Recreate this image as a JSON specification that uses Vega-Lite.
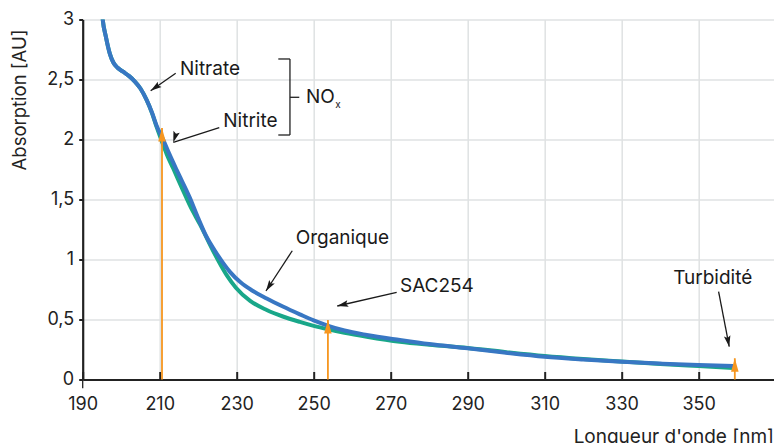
{
  "$schema": "https://vega.github.io/schema/vega-lite/v6.json",
  "width": 691,
  "height": 360,
  "autosize": {"type": "none"},
  "padding": {"left": 82.7, "top": 19.5, "right": 0, "bottom": 63.5},
  "background": "white",
  "config": {"view": {"stroke": null}, "font": "Inter"},
  "datasets": {
    "green": [
      {"nm": 194.6, "abs": 3.25}, {"nm": 195.2, "abs": 3.0}, {"nm": 196.0, "abs": 2.86}, {"nm": 197.1, "abs": 2.71},
      {"nm": 198.0, "abs": 2.64}, {"nm": 199.0, "abs": 2.6}, {"nm": 200.5, "abs": 2.565}, {"nm": 202.0, "abs": 2.53},
      {"nm": 203.5, "abs": 2.485}, {"nm": 205.0, "abs": 2.425}, {"nm": 206.6, "abs": 2.33}, {"nm": 208.0, "abs": 2.22},
      {"nm": 209.2, "abs": 2.105}, {"nm": 210.5, "abs": 1.99}, {"nm": 211.8, "abs": 1.88}, {"nm": 213.5, "abs": 1.76},
      {"nm": 216.0, "abs": 1.58}, {"nm": 218.0, "abs": 1.44}, {"nm": 220.5, "abs": 1.29}, {"nm": 223.9, "abs": 1.07},
      {"nm": 227.4, "abs": 0.87}, {"nm": 229.8, "abs": 0.765}, {"nm": 233.5, "abs": 0.655}, {"nm": 237.8, "abs": 0.579},
      {"nm": 242.0, "abs": 0.525}, {"nm": 246.4, "abs": 0.48}, {"nm": 250.0, "abs": 0.447}, {"nm": 253.8, "abs": 0.418},
      {"nm": 258.0, "abs": 0.39}, {"nm": 263.8, "abs": 0.357}, {"nm": 272.4, "abs": 0.315}, {"nm": 280.0, "abs": 0.29},
      {"nm": 290.0, "abs": 0.263}, {"nm": 300.0, "abs": 0.228}, {"nm": 310.0, "abs": 0.196}, {"nm": 320.0, "abs": 0.171},
      {"nm": 330.0, "abs": 0.15}, {"nm": 340.0, "abs": 0.13}, {"nm": 350.0, "abs": 0.112}, {"nm": 359.0, "abs": 0.096}
    ],
    "blue": [
      {"nm": 194.6, "abs": 3.25}, {"nm": 195.2, "abs": 3.0}, {"nm": 196.0, "abs": 2.86}, {"nm": 197.1, "abs": 2.71},
      {"nm": 198.0, "abs": 2.64}, {"nm": 199.0, "abs": 2.6}, {"nm": 200.5, "abs": 2.565}, {"nm": 202.0, "abs": 2.53},
      {"nm": 203.5, "abs": 2.485}, {"nm": 205.0, "abs": 2.425}, {"nm": 206.6, "abs": 2.33}, {"nm": 208.0, "abs": 2.225},
      {"nm": 209.2, "abs": 2.115}, {"nm": 210.9, "abs": 2.0}, {"nm": 212.5, "abs": 1.88}, {"nm": 214.5, "abs": 1.74},
      {"nm": 217.9, "abs": 1.51}, {"nm": 219.8, "abs": 1.36}, {"nm": 222.0, "abs": 1.2}, {"nm": 224.8, "abs": 1.05},
      {"nm": 226.5, "abs": 0.97}, {"nm": 228.3, "abs": 0.895}, {"nm": 231.0, "abs": 0.81}, {"nm": 234.0, "abs": 0.742},
      {"nm": 237.8, "abs": 0.675}, {"nm": 242.0, "abs": 0.608}, {"nm": 246.4, "abs": 0.543}, {"nm": 250.0, "abs": 0.492},
      {"nm": 253.8, "abs": 0.447}, {"nm": 258.0, "abs": 0.408}, {"nm": 263.8, "abs": 0.371}, {"nm": 272.4, "abs": 0.329},
      {"nm": 280.0, "abs": 0.295}, {"nm": 290.0, "abs": 0.26}, {"nm": 300.0, "abs": 0.223}, {"nm": 310.0, "abs": 0.19},
      {"nm": 320.0, "abs": 0.167}, {"nm": 330.0, "abs": 0.148}, {"nm": 340.0, "abs": 0.133}, {"nm": 350.0, "abs": 0.12},
      {"nm": 359.0, "abs": 0.112}
    ],
    "orange": [
      {"nm": 210.6, "base": 0, "tip": 2.096},
      {"nm": 253.7, "base": 0, "tip": 0.496},
      {"nm": 359.4, "base": 0, "tip": 0.177}
    ],
    "arrows": [
      {"label": "Nitrate", "x0": 214.16, "y0": 2.552, "x1": 207.66, "y1": 2.407},
      {"label": "Nitrite", "x0": 225.48, "y0": 2.098, "x1": 213.53, "y1": 1.977},
      {"label": "Organique", "x0": 244.44, "y0": 1.073, "x1": 237.61, "y1": 0.7375},
      {"label": "SAC254", "x0": 271.56, "y0": 0.7267, "x1": 256.13, "y1": 0.6125},
      {"label": "Turbidité", "x0": 355.19, "y0": 0.7317, "x1": 357.95, "y1": 0.273}
    ],
    "bracket": [
      {"x0": 240.81, "y0": 2.671, "x1": 243.84, "y1": 2.671},
      {"x0": 243.84, "y0": 2.671, "x1": 243.84, "y1": 2.0375},
      {"x0": 240.81, "y0": 2.0375, "x1": 243.84, "y1": 2.0375},
      {"x0": 243.84, "y0": 2.3517, "x1": 246.26, "y1": 2.3517},
      {"x0": 190, "y0": 0, "x1": 190, "y1": -0.072}
    ],
    "labels": [
      {"x": 215.27, "y": 2.5375, "text": "Nitrate"},
      {"x": 226.52, "y": 2.1017, "text": "Nitrite"},
      {"x": 245.32, "y": 1.1267, "text": "Organique"},
      {"x": 272.42, "y": 0.7267, "text": "SAC254"},
      {"x": 343.4, "y": 0.7933, "text": "Turbidité"},
      {"x": 248.0, "y": 2.3017, "text": "NO"}
    ],
    "sub": [
      {"x": 255.6, "y": 2.26, "text": "x"}
    ]
  },
  "layer": [
    {
      "data": {"name": "green"},
      "mark": {"type": "line", "color": "#19a789", "strokeWidth": 4, "clip": true, "interpolate": "monotone", "strokeCap": "butt"},
      "encoding": {
        "x": {
          "field": "nm", "type": "quantitative",
          "scale": {"domain": [190, 369.5], "nice": false, "zero": false},
          "axis": {
            "title": "Longueur d'onde [nm]",
            "values": [190, 210, 230, 250, 270, 290, 310, 330, 350],
            "grid": true, "gridColor": "#dfe2e3", "gridWidth": 1.5,
            "domainColor": "#222222", "domainWidth": 2.2,
            "tickColor": "#222222", "tickWidth": 2, "tickSize": -8,
            "labelFont": "Inter", "labelFontSize": 18, "labelColor": "#222222", "labelPadding": 24,
            "labelFlush": false, "labelOverlap": false,
            "titleFont": "Inter", "titleFontSize": 19, "titleFontWeight": "normal", "titleColor": "#222222",
            "titleX": 690.8, "titleY": 63.5, "titleAlign": "right", "titleBaseline": "alphabetic"
          }
        },
        "y": {
          "field": "abs", "type": "quantitative",
          "scale": {"domain": [0, 3], "nice": false, "zero": false},
          "axis": {
            "title": "Absorption [AU]",
            "values": [0, 0.5, 1, 1.5, 2, 2.5, 3],
            "format": "~g",
            "labelExpr": "replace(datum.label, '.', ',')",
            "grid": true, "gridColor": "#dfe2e3", "gridWidth": 1.5,
            "domainColor": "#222222", "domainWidth": 2.2,
            "tickColor": "#222222", "tickWidth": 2, "tickSize": 4,
            "labelFont": "Inter", "labelFontSize": 18, "labelColor": "#222222", "labelPadding": 5,
            "titleFont": "Inter", "titleFontSize": 18.5, "titleFontWeight": "normal", "titleColor": "#222222",
            "titleAngle": 270, "titleX": -57.5, "titleY": 80, "titleAlign": "center", "titleBaseline": "alphabetic"
          }
        }
      }
    },
    {
      "data": {"name": "blue"},
      "mark": {"type": "line", "color": "#3877c3", "strokeWidth": 4, "clip": true, "interpolate": "monotone", "strokeCap": "butt"},
      "encoding": {
        "x": {"field": "nm", "type": "quantitative"},
        "y": {"field": "abs", "type": "quantitative"}
      }
    },
    {
      "data": {"name": "orange"},
      "mark": {"type": "rule", "color": "#f6961f", "strokeWidth": 1.8},
      "encoding": {
        "x": {"field": "nm", "type": "quantitative"},
        "y": {"field": "base", "type": "quantitative"},
        "y2": {"field": "tip"}
      }
    },
    {
      "data": {"name": "orange"},
      "mark": {"type": "point", "shape": "M0,0L0.28,1L-0.28,1Z", "filled": true, "opacity": 1, "size": 729, "color": "#f6961f", "strokeWidth": 0},
      "encoding": {
        "x": {"field": "nm", "type": "quantitative"},
        "y": {"field": "tip", "type": "quantitative"}
      }
    },
    {
      "data": {"name": "arrows"},
      "mark": {"type": "rule", "color": "#1a1a1a", "strokeWidth": 1.3},
      "encoding": {
        "x": {"field": "x0", "type": "quantitative"},
        "y": {"field": "y0", "type": "quantitative"},
        "x2": {"field": "x1"},
        "y2": {"field": "y1"}
      }
    },
    {
      "data": {"name": "arrows"},
      "transform": [{"filter": "datum.label === 'Nitrate'"}],
      "mark": {"type": "point", "shape": "M0,0L0.3,1L0,0.82L-0.3,1Z", "filled": true, "opacity": 1, "size": 484, "color": "#1a1a1a", "strokeWidth": 0, "angle": 235},
      "encoding": {
        "x": {"field": "x1", "type": "quantitative"},
        "y": {"field": "y1", "type": "quantitative"}
      }
    },
    {
      "data": {"name": "arrows"},
      "transform": [{"filter": "datum.label === 'Nitrite'"}],
      "mark": {"type": "point", "shape": "M0,0L0.3,1L0,0.82L-0.3,1Z", "filled": true, "opacity": 1, "size": 484, "color": "#1a1a1a", "strokeWidth": 0, "angle": 197.6},
      "encoding": {
        "x": {"field": "x1", "type": "quantitative"},
        "y": {"field": "y1", "type": "quantitative"}
      }
    },
    {
      "data": {"name": "arrows"},
      "transform": [{"filter": "datum.label === 'Organique'"}],
      "mark": {"type": "point", "shape": "M0,0L0.3,1L0,0.82L-0.3,1Z", "filled": true, "opacity": 1, "size": 484, "color": "#1a1a1a", "strokeWidth": 0, "angle": 213.1},
      "encoding": {
        "x": {"field": "x1", "type": "quantitative"},
        "y": {"field": "y1", "type": "quantitative"}
      }
    },
    {
      "data": {"name": "arrows"},
      "transform": [{"filter": "datum.label === 'SAC254'"}],
      "mark": {"type": "point", "shape": "M0,0L0.3,1L0,0.82L-0.3,1Z", "filled": true, "opacity": 1, "size": 484, "color": "#1a1a1a", "strokeWidth": 0, "angle": 257},
      "encoding": {
        "x": {"field": "x1", "type": "quantitative"},
        "y": {"field": "y1", "type": "quantitative"}
      }
    },
    {
      "data": {"name": "arrows"},
      "transform": [{"filter": "datum.label === 'Turbidité'"}],
      "mark": {"type": "point", "shape": "M0,0L0.3,1L0,0.82L-0.3,1Z", "filled": true, "opacity": 1, "size": 484, "color": "#1a1a1a", "strokeWidth": 0, "angle": 169.1},
      "encoding": {
        "x": {"field": "x1", "type": "quantitative"},
        "y": {"field": "y1", "type": "quantitative"}
      }
    },
    {
      "data": {"name": "bracket"},
      "mark": {"type": "rule", "color": "#222222", "strokeWidth": 1.3},
      "encoding": {
        "x": {"field": "x0", "type": "quantitative"},
        "y": {"field": "y0", "type": "quantitative"},
        "x2": {"field": "x1"},
        "y2": {"field": "y1"}
      }
    },
    {
      "data": {"name": "labels"},
      "mark": {"type": "text", "font": "Inter", "fontSize": 19, "color": "#1a1a1a", "align": "left", "baseline": "alphabetic"},
      "encoding": {
        "x": {"field": "x", "type": "quantitative"},
        "y": {"field": "y", "type": "quantitative"},
        "text": {"field": "text"}
      }
    },
    {
      "data": {"name": "sub"},
      "mark": {"type": "text", "font": "Inter", "fontSize": 10, "color": "#1a1a1a", "align": "left", "baseline": "alphabetic"},
      "encoding": {
        "x": {"field": "x", "type": "quantitative"},
        "y": {"field": "y", "type": "quantitative"},
        "text": {"field": "text"}
      }
    }
  ]
}
